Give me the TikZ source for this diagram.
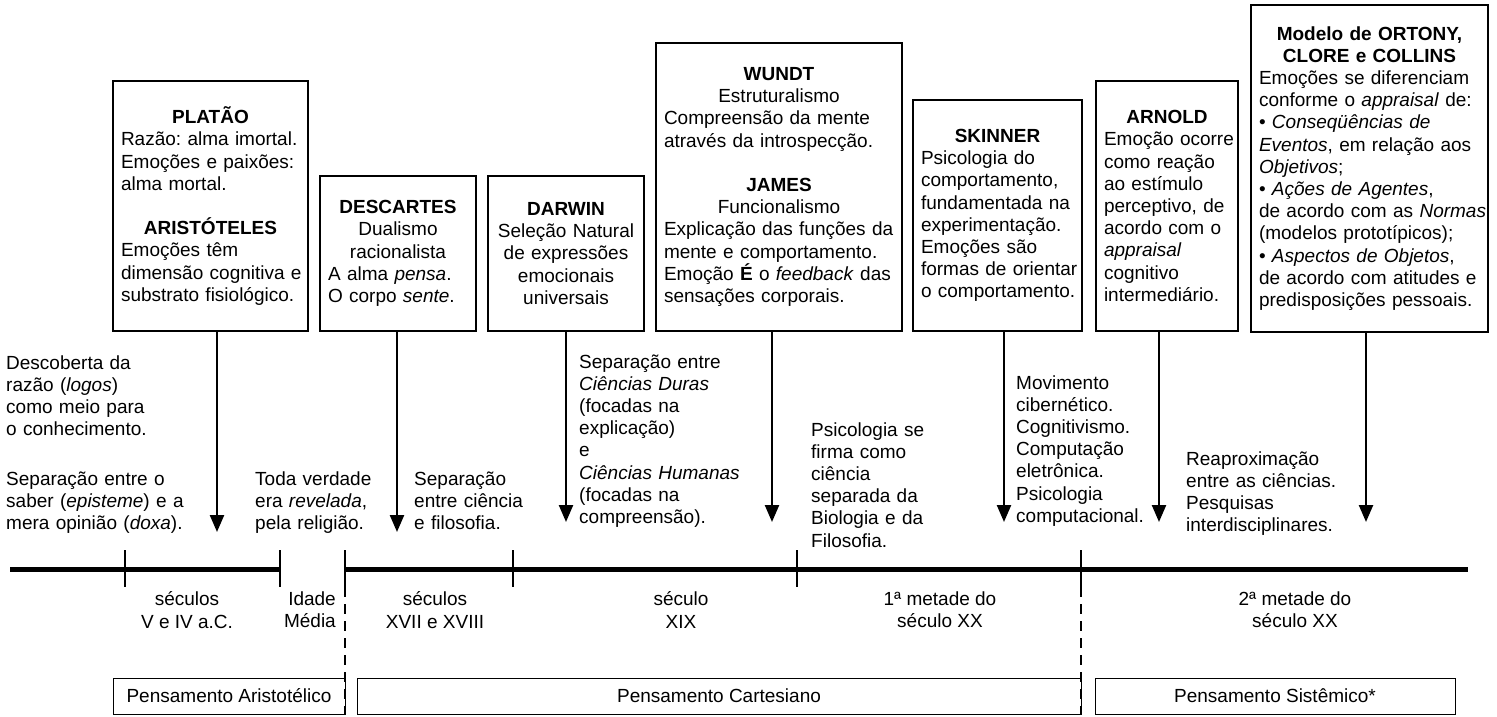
\documentclass[tikz,border=0pt]{standalone}
\usepackage{fontspec}
\setmainfont{Liberation Sans}
\usetikzlibrary{calc,shapes,arrows.meta}
\frenchspacing

\newcommand{\ttl}[1]{{\centering\textbf{#1}\par}}
\newcommand{\nobrk}{\rightskip=0pt plus 1fil minus 1000pt\relax}

\begin{document}
\begin{tikzpicture}[x=1pt,y=-1pt,font=\fontsize{19}{22.2}\selectfont,
    box/.style={draw,line width=2.2pt,align=left,inner xsep=8pt,inner ysep=0pt,
      execute at begin node=\nobrk},
    note/.style={anchor=base west,inner sep=0pt,align=left,text width=#1,
      execute at begin node=\nobrk},
    era/.style={draw,line width=0.8pt,minimum height=36pt,inner sep=0pt},
    arr/.style={line width=2.4pt,-{Triangle[length=17pt,width=14pt]}}]
\useasboundingbox (0,0) rectangle (1497,717);

% authors
\node[box,minimum width=195pt,minimum height=250pt,text width=179pt] (platao) at (210.5,206)
  {\ttl{PLATÃO}Razão: alma imortal.\\Emoções e paixões:\\alma mortal.\par\vspace{22.2pt}\ttl{ARISTÓTELES}Emoções têm\\dimensão cognitiva e\\substrato fisiológico.};
\node[box,minimum width=156pt,minimum height=155pt,text width=140pt] (descartes) at (398,253.5)
  {{\centering\textbf{DESCARTES}\\Dualismo\\racionalista\par}A alma \textit{pensa}.\\O corpo \textit{sente}.};
\node[box,minimum width=156pt,minimum height=155pt,text width=140pt] (darwin) at (566,253.5)
  {{\centering\textbf{DARWIN}\\Seleção Natural\\de expressões\\emocionais\\universais\par}};
\node[box,minimum width=246pt,minimum height=288pt,text width=230pt] (wundt) at (779,187)
  {{\centering\textbf{WUNDT}\\Estruturalismo\par}Compreensão da mente\\através da introspecção.\par\vspace{22.2pt}{\centering\textbf{JAMES}\\Funcionalismo\par}Explicação das funções da\\mente e comportamento.\\Emoção \textbf{É} o \textit{feedback} das\\sensações corporais.};
\node[box,minimum width=169pt,minimum height=231pt,text width=153pt] (skinner) at (997.5,215.5)
  {\ttl{SKINNER}Psicologia do\\comportamento,\\fundamentada na\\experimentação.\\Emoções são\\formas de orientar\\o comportamento.};
\node[box,minimum width=142pt,minimum height=250pt,text width=126pt] (arnold) at (1167,206)
  {\ttl{ARNOLD}Emoção ocorre\\como reação\\ao estímulo\\perceptivo, de\\acordo com o\\\textit{appraisal}\\cognitivo\\intermediário.};
\node[box,minimum width=237pt,minimum height=327pt,text width=221pt] (ortony) at (1369.5,168.5)
  {{\centering\textbf{Modelo de ORTONY,}\\\textbf{CLORE e COLLINS}\par}Emoções se diferenciam\\conforme o \textit{appraisal} de:\\• \textit{Conseqüências de}\\\textit{Eventos}, em relação aos\\\textit{Objetivos};\\• \textit{Ações de Agentes},\\de acordo com as \textit{Normas}\\(modelos prototípicos);\\• \textit{Aspectos de Objetos},\\de acordo com atitudes e\\predisposições pessoais.};

\foreach \n/\x/\y in {platao/217/532,descartes/397/532,darwin/566/522,wundt/772/522,
    skinner/1004/522,arnold/1159/522,ortony/1366/522}{
  \coordinate (\n-tip) at (\x,\y);
  \draw[arr] (\n.south -| \n-tip) -- (\n-tip);
}

% events
\node[note=200pt] (logos) at (6,369) {Descoberta da\\razão (\textit{logos})\\como meio para\\o conhecimento.};
\node[note=200pt] (doxa) at (6,485) {Separação entre o\\saber (\textit{episteme}) e a\\mera opinião (\textit{doxa}).};
\node[note=150pt] (revelada) at (255,485) {Toda verdade\\era \textit{revelada},\\pela religião.};
\node[note=150pt] (filosofia) at (414,485) {Separação\\entre ciência\\e filosofia.};
\node[note=180pt] (ciencias) at (579,368) {Separação entre\\\textit{Ciências Duras}\\(focadas na\\explicação)\\e\\\textit{Ciências Humanas}\\(focadas na\\compreensão).};
\node[note=180pt] (biologia) at (811,436) {Psicologia se\\firma como\\ciência\\separada da\\Biologia e da\\Filosofia.};
\node[note=180pt] (ciber) at (1016,389) {Movimento\\cibernético.\\Cognitivismo.\\Computação\\eletrônica.\\Psicologia\\computacional.};
\node[note=180pt] (reaprox) at (1186,465) {Reaproximação\\entre as ciências.\\Pesquisas\\interdisciplinares.};

% timeline
\draw[line width=5pt] (10,569) -- (280,569);
\draw[line width=5pt] (345,569) -- (1468,569);
\foreach \x in {125,280,345,513,797,1081}
  \draw[line width=2.4pt] (\x,550) -- (\x,587);
\foreach \x in {345,1081}
  \draw[line width=1.6pt,dash pattern=on 10pt off 7pt] (\x,587) -- (\x,714);

\node[align=center] (sec1) at (187,610) {séculos\\V e IV a.C.};
\node[align=right,anchor=east,inner sep=0pt] (medieval) at (336,610) {Idade\\Média};
\node[align=center] (sec2) at (435,610) {séculos\\XVII e XVIII};
\node[align=center] (sec3) at (681,610) {século\\XIX};
\node[align=center] (sec4) at (940,610) {1ª metade do\\século XX};
\node[align=center] (sec5) at (1295,610) {2ª metade do\\século XX};

\node[era,minimum width=232pt] (aristotelico) at (229,696) {Pensamento Aristotélico};
\node[era,minimum width=724pt] (cartesiano) at (719,696) {Pensamento Cartesiano};
\node[era,minimum width=360pt] (sistemico) at (1275,696) {Pensamento Sistêmico*};
\end{tikzpicture}
\end{document}
